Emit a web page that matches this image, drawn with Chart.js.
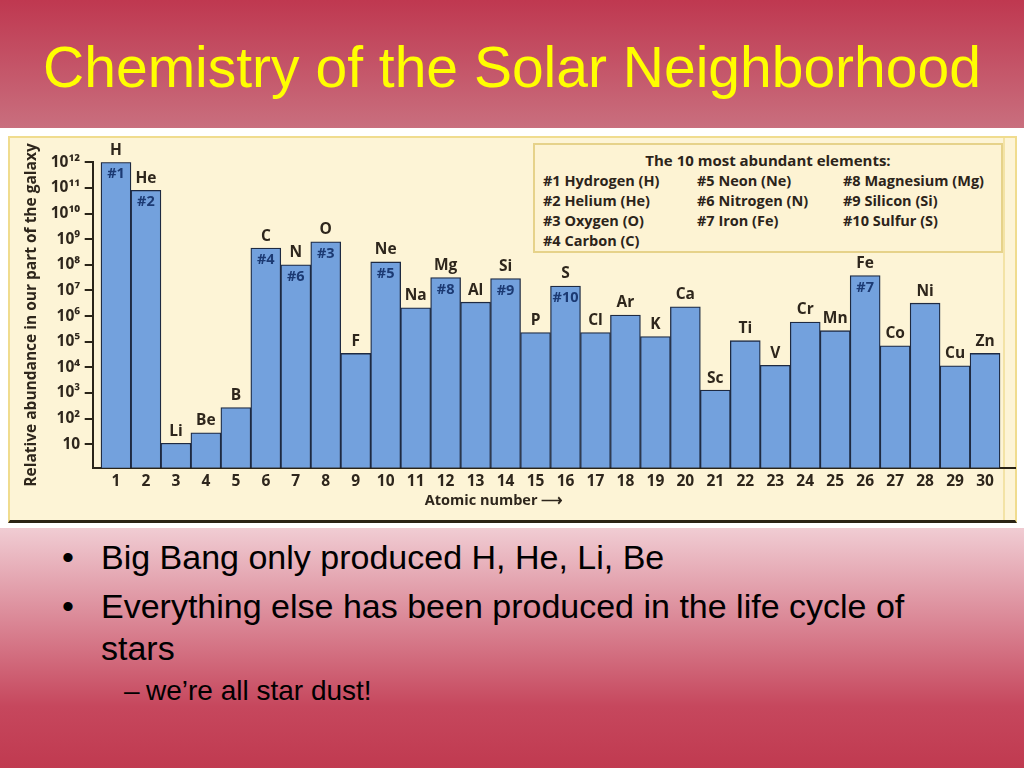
<!DOCTYPE html>
<html>
<head>
<meta charset="utf-8">
<script src="https://cdn.jsdelivr.net/npm/chart.js@4.4.1/dist/chart.umd.min.js"></script>
<style>
  html, body { margin:0; padding:0; width:1024px; height:768px; overflow:hidden; }
  body {
    position:relative;
    font-family:"Liberation Sans", Arial, sans-serif;
    background:linear-gradient(to bottom, #bf3850 0%, #c9707f 17%, #f0cbd2 69%, #c6475d 92%, #c03a50 100%);
  }
  #title { position:absolute; left:0; top:35px; width:1024px; text-align:center; color:#ffff00; font-size:57px; line-height:64px; white-space:nowrap; }
  #panel { position:absolute; left:0; top:128px; width:1024px; height:400px; background:#ffffff; }
  #inner { position:absolute; left:8px; top:136px; width:1009px; height:387px; box-sizing:border-box; background:#fdf4d6;
           border:2px solid #f0dc8e; border-bottom:3px solid #2a2314; }
  #innerLine { position:absolute; left:1003px; top:138px; width:2px; height:382px; background:#f3e3a6; }
  #wrap { position:absolute; left:0; top:128px; width:1024px; height:400px; }
  #legendBox { position:absolute; left:533px; top:143px; width:470px; height:110px; box-sizing:border-box;
               border:2px solid #e6d28a; background:#fdf3d3; font-family:"Open Sans", sans-serif; font-weight:700; color:#2c241a; }
  #legendTitle { position:absolute; left:0; width:100%; top:5px; text-align:center; font-size:15px; line-height:20px; }
  .lcol { position:absolute; top:26px; font-size:14.5px; line-height:20px; white-space:nowrap; }
  .line { position:absolute; white-space:nowrap; color:#000; }
  .b1 { font-size:34px; line-height:34px; }
  .b2 { font-size:28px; line-height:28px; }
</style>
</head>
<body>
<div id="title">Chemistry of the Solar Neighborhood</div>
<div id="panel"></div>
<div id="inner"></div>
<div id="innerLine"></div>
<div id="wrap"><canvas id="c" width="1024" height="400"></canvas></div>
<div id="legendBox"><div id="legendTitle"></div></div>

<div class="line b1" style="left:62px;top:540px;">•</div>
<div class="line b1" style="left:101px;top:540px;">Big Bang only produced H, He, Li, Be</div>
<div class="line b1" style="left:62px;top:589px;">•</div>
<div class="line b1" style="left:101px;top:589px;">Everything else has been produced in the life cycle of</div>
<div class="line b1" style="left:101px;top:631px;">stars</div>
<div class="line b2" style="left:124px;top:677px;">–</div>
<div class="line b2" style="left:146px;top:677px;">we’re all star dust!</div>

<script>
// ---- data ----
const atomicNumbers = [1,2,3,4,5,6,7,8,9,10,11,12,13,14,15,16,17,18,19,20,21,22,23,24,25,26,27,28,29,30];
const elementSymbols = ['H','He','Li','Be','B','C','N','O','F','Ne','Na','Mg','Al','Si','P','S','Cl','Ar','K','Ca','Sc','Ti','V','Cr','Mn','Fe','Co','Ni','Cu','Zn'];
const abundance = [1e12, 8.1e10, 11, 28, 270, 4.5e8, 1.0e8, 7.9e8, 3.5e4, 1.3e8,
                   2.1e6, 3.2e7, 3.5e6, 2.9e7, 2.3e5, 1.5e7, 2.3e5, 1.1e6, 1.6e5, 2.3e6,
                   1.3e3, 1.1e5, 1.2e4, 5.9e5, 2.7e5, 3.8e7, 6.9e4, 3.2e6, 1.15e4, 3.5e4];
const abundanceRank = [1,2,null,null,null,4,6,3,null,5,
                       null,8,null,9,null,10,null,null,null,null,
                       null,null,null,null,null,7,null,null,null,null];
const yTickValues = [10,1e2,1e3,1e4,1e5,1e6,1e7,1e8,1e9,1e10,1e11,1e12];
const xTickValues = atomicNumbers;
const legendTitleText = 'The 10 most abundant elements:';
const rankedNames = ['Hydrogen','Helium','Oxygen','Carbon','Neon','Nitrogen','Iron','Magnesium','Silicon','Sulfur'];
const legendColumns = [[1,2,3,4],[5,6,7],[8,9,10]];
const yAxisTitle = 'Relative abundance in our part of the galaxy';
const xAxisTitle = 'Atomic number ⟶';

// ---- legend box ----
document.getElementById('legendTitle').textContent = legendTitleText;
const colLeft = [8, 162, 308];
legendColumns.forEach((ranks, ci) => {
  const d = document.createElement('div');
  d.className = 'lcol';
  d.style.left = colLeft[ci] + 'px';
  d.innerHTML = ranks.map(r => {
    const sym = elementSymbols[abundanceRank.indexOf(r)];
    return '#' + r + ' ' + rankedNames[r-1] + ' (' + sym + ')';
  }).join('<br>');
  document.getElementById('legendBox').appendChild(d);
});

// ---- chart ----
const SUP = {'0':'⁰','1':'¹','2':'²','3':'³','4':'⁴','5':'⁵','6':'⁶','7':'⁷','8':'⁸','9':'⁹'};
function powLabel(v) {
  const e = Math.round(Math.log10(v));
  if (e === 1) return '10';
  return '10' + String(e).split('').map(ch => SUP[ch]).join('');
}
const textColor = '#2e261c';
const axisColor = '#2a2418';
const labelFont = '"Open Sans", sans-serif';

const barLabels = {
  id: 'barLabels',
  afterDatasetsDraw(chart) {
    const ctx = chart.ctx;
    const meta = chart.getDatasetMeta(0);
    ctx.save();
    ctx.textAlign = 'center';
    ctx.textBaseline = 'middle';
    meta.data.forEach((bar, i) => {
      ctx.fillStyle = textColor;
      ctx.font = '700 15.5px ' + labelFont;
      ctx.fillText(elementSymbols[i], bar.x, bar.y - 12);
      if (abundanceRank[i]) {
        ctx.fillStyle = '#1c3a73';
        ctx.font = '700 14.5px ' + labelFont;
        ctx.fillText('#' + abundanceRank[i], bar.x, bar.y + 12);
      }
    });
    ctx.restore();
  },
  afterDraw(chart) {
    const ctx = chart.ctx;
    ctx.save();
    ctx.fillStyle = textColor;
    ctx.font = '700 14.5px ' + labelFont;
    ctx.textAlign = 'center';
    ctx.textBaseline = 'middle';
    ctx.fillText(xAxisTitle, 494, 373);
    ctx.restore();
  }
};

new Chart(document.getElementById('c'), {
  type: 'bar',
  data: {
    datasets: [{
      data: atomicNumbers.map((n, i) => ({x: n, y: abundance[i]})),
      backgroundColor: '#73a1dd',
      borderColor: '#1e2a42',
      borderWidth: 1.3,
      borderSkipped: 'start',
      barPercentage: 1,
      categoryPercentage: 1
    }]
  },
  options: {
    responsive: false,
    animation: false,
    devicePixelRatio: 1,
    layout: { padding: { top: 34.3, right: 9, bottom: 0, left: 0 } },
    plugins: { legend: { display: false }, tooltip: { enabled: false } },
    scales: {
      x: {
        type: 'linear',
        offset: false,
        min: 0.223,
        max: 31.0,
        afterBuildTicks: s => { s.ticks = xTickValues.map(v => ({value: v})); },
        afterFit: s => { s.height = 60.3; },
        grid: { display: false, offset: false },
        border: { display: true, color: axisColor, width: 2 },
        ticks: { autoSkip: false, maxRotation: 0, padding: -3, color: textColor,
                 font: { family: labelFont, weight: '700', size: 15.5 }, callback: v => String(v) },
        title: { display: false }
      },
      y: {
        type: 'logarithmic',
        min: 1.22,
        max: 1e12,
        afterBuildTicks: s => { s.ticks = yTickValues.map(v => ({value: v})); },
        afterFit: s => { s.width = 92.7; },
        grid: { display: true, drawOnChartArea: false, drawTicks: true, tickLength: 8, color: axisColor, lineWidth: 2 },
        border: { display: true, color: axisColor, width: 2 },
        ticks: { padding: 4.5, color: textColor, font: { family: labelFont, weight: '700', size: 15.5 },
                 callback: v => powLabel(v) },
        title: { display: true, text: yAxisTitle, color: textColor, padding: { top: 22.6, bottom: 0 },
                 font: { family: labelFont, weight: '700', size: 15.5 } }
      }
    }
  },
  plugins: [barLabels]
});
</script>
</body>
</html>
